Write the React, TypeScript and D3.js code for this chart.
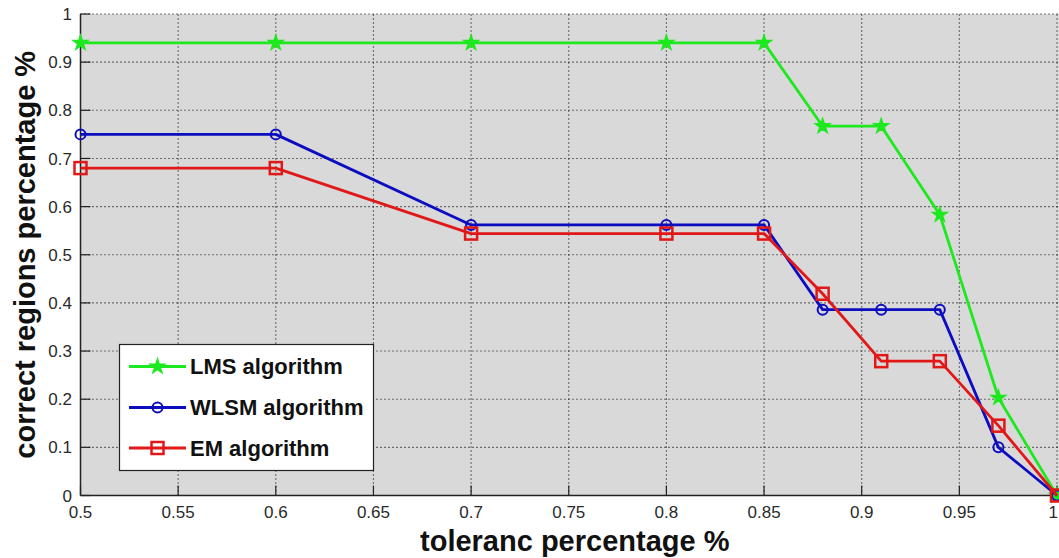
import React from "react";
import * as d3 from "d3";

const tolerance = [0.5, 0.6, 0.7, 0.8, 0.85, 0.88, 0.91, 0.94, 0.97, 1.0];
const lmsValues = [0.94, 0.94, 0.94, 0.94, 0.94, 0.767, 0.767, 0.583, 0.203, 0];
const wlsmValues = [0.75, 0.75, 0.562, 0.562, 0.562, 0.386, 0.386, 0.386, 0.1, 0];
const emValues = [0.68, 0.68, 0.544, 0.544, 0.544, 0.419, 0.279, 0.279, 0.145, 0];
const xTicks = [0.5, 0.55, 0.6, 0.65, 0.7, 0.75, 0.8, 0.85, 0.9, 0.95, 1];
const yTicks = [0, 0.1, 0.2, 0.3, 0.4, 0.5, 0.6, 0.7, 0.8, 0.9, 1];
const seriesNames = ["LMS algorithm", "WLSM algorithm", "EM algorithm"];

const W = 1059;
const H = 558;
const left = 80.5;
const right = 1057;
const top = 14;
const bottom = 495.5;
const FONT = "'Liberation Sans', Arial, Helvetica, sans-serif";

type Marker = "star" | "circle" | "square";

function MarkerShape({ x, y, kind, color }: { x: number; y: number; kind: Marker; color: string }) {
  if (kind === "star") {
    const p = d3.symbol().type(d3.symbolStar).size(64)();
    return <path d={p || ""} transform={`translate(${x},${y})`} fill={color} stroke={color} strokeWidth={1.5} />;
  }
  if (kind === "circle") {
    return <circle cx={x} cy={y} r={5} fill="none" stroke={color} strokeWidth={2} />;
  }
  return <rect x={x - 6} y={y - 6} width={12} height={12} fill="none" stroke={color} strokeWidth={2.5} />;
}

export default function App() {
  const x = d3.scaleLinear().domain([0.5, 1]).range([left, right]);
  const y = d3.scaleLinear().domain([0, 1]).range([bottom, top]);

  const series = [
    { name: seriesNames[0], values: lmsValues, color: "#1ee81e", marker: "star" as Marker },
    { name: seriesNames[1], values: wlsmValues, color: "#0c0cc0", marker: "circle" as Marker },
    { name: seriesNames[2], values: emValues, color: "#e01818", marker: "square" as Marker },
  ];

  const line = d3
    .line<number>()
    .x((_, i) => x(tolerance[i]))
    .y((d) => y(d));

  const legX = 119.5;
  const legY = 344.5;
  const legW = 254;
  const legH = 126;
  const rowY = [366.5, 407.5, 448];

  return (
    <svg width={W} height={H} style={{ position: "absolute", left: 0, top: 0, display: "block" }}>
      <rect x={0} y={0} width={W} height={H} fill="#ffffff" />
      <rect x={left} y={top} width={right - left + 3} height={bottom - top} fill="#d9d9d9" />
      {/* grid */}
      {xTicks.slice(1).map((t) => (
        <line key={"gx" + t} x1={x(t)} x2={x(t)} y1={bottom} y2={top} stroke="#000" strokeWidth={1.1} strokeDasharray="1,3" />
      ))}
      {yTicks.slice(1).map((t) => (
        <line key={"gy" + t} x1={left} x2={W} y1={y(t)} y2={y(t)} stroke="#000" strokeWidth={1.1} strokeDasharray="1,3" />
      ))}
      {/* ticks */}
      {xTicks.map((t) => (
        <line key={"tx" + t} x1={x(t)} x2={x(t)} y1={bottom} y2={bottom - 10} stroke="#222" strokeWidth={1.2} />
      ))}
      {yTicks.map((t) => (
        <line key={"ty" + t} x1={left} x2={left + 10} y1={y(t)} y2={y(t)} stroke="#222" strokeWidth={1.2} />
      ))}
      {/* axes */}
      <line x1={left} x2={left} y1={top} y2={bottom} stroke="#222" strokeWidth={1.5} />
      <line x1={left} x2={W} y1={bottom} y2={bottom} stroke="#222" strokeWidth={1.5} />
      {/* tick labels */}
      {xTicks.map((t, i) => (
        <text
          key={"lx" + t}
          x={i === xTicks.length - 1 ? W - 1 : x(t)}
          y={518}
          textAnchor={i === xTicks.length - 1 ? "end" : "middle"}
          fontFamily={FONT}
          fontSize={17}
          fill="#2a2a2a"
        >
          {String(t)}
        </text>
      ))}
      {yTicks.map((t) => (
        <text key={"ly" + t} x={72} y={y(t)} dy="0.36em" textAnchor="end" fontFamily={FONT} fontSize={17} fill="#2a2a2a">
          {String(t)}
        </text>
      ))}
      {/* axis labels */}
      <text x={(left + right) / 2 + 6} y={551} textAnchor="middle" fontFamily={FONT} fontWeight="bold" fontSize={29} fill="#111">
        toleranc percentage %
      </text>
      <text
        transform={`translate(35,${(top + bottom) / 2}) rotate(-90)`}
        textAnchor="middle"
        fontFamily={FONT}
        fontWeight="bold"
        fontSize={29}
        fill="#111"
      >
        correct regions percentage %
      </text>
      {/* series */}
      {series.map((s) => (
        <g key={s.name}>
          <path d={line(s.values) || ""} fill="none" stroke={s.color} strokeWidth={2.8} strokeLinejoin="round" />
          {s.values.map((v, i) => (
            <MarkerShape key={i} x={x(tolerance[i])} y={y(v)} kind={s.marker} color={s.color} />
          ))}
        </g>
      ))}
      {/* legend */}
      <rect x={legX} y={legY} width={legW} height={legH} fill="#ffffff" stroke="#222" strokeWidth={1.2} />
      {series.map((s, i) => (
        <g key={"leg" + s.name}>
          <line x1={129} x2={186} y1={rowY[i]} y2={rowY[i]} stroke={s.color} strokeWidth={2.8} />
          <MarkerShape x={157.5} y={rowY[i]} kind={s.marker} color={s.color} />
          <text x={190} y={rowY[i]} dy="0.36em" fontFamily={FONT} fontWeight="bold" fontSize={22} fill="#111">
            {s.name}
          </text>
        </g>
      ))}
    </svg>
  );
}
